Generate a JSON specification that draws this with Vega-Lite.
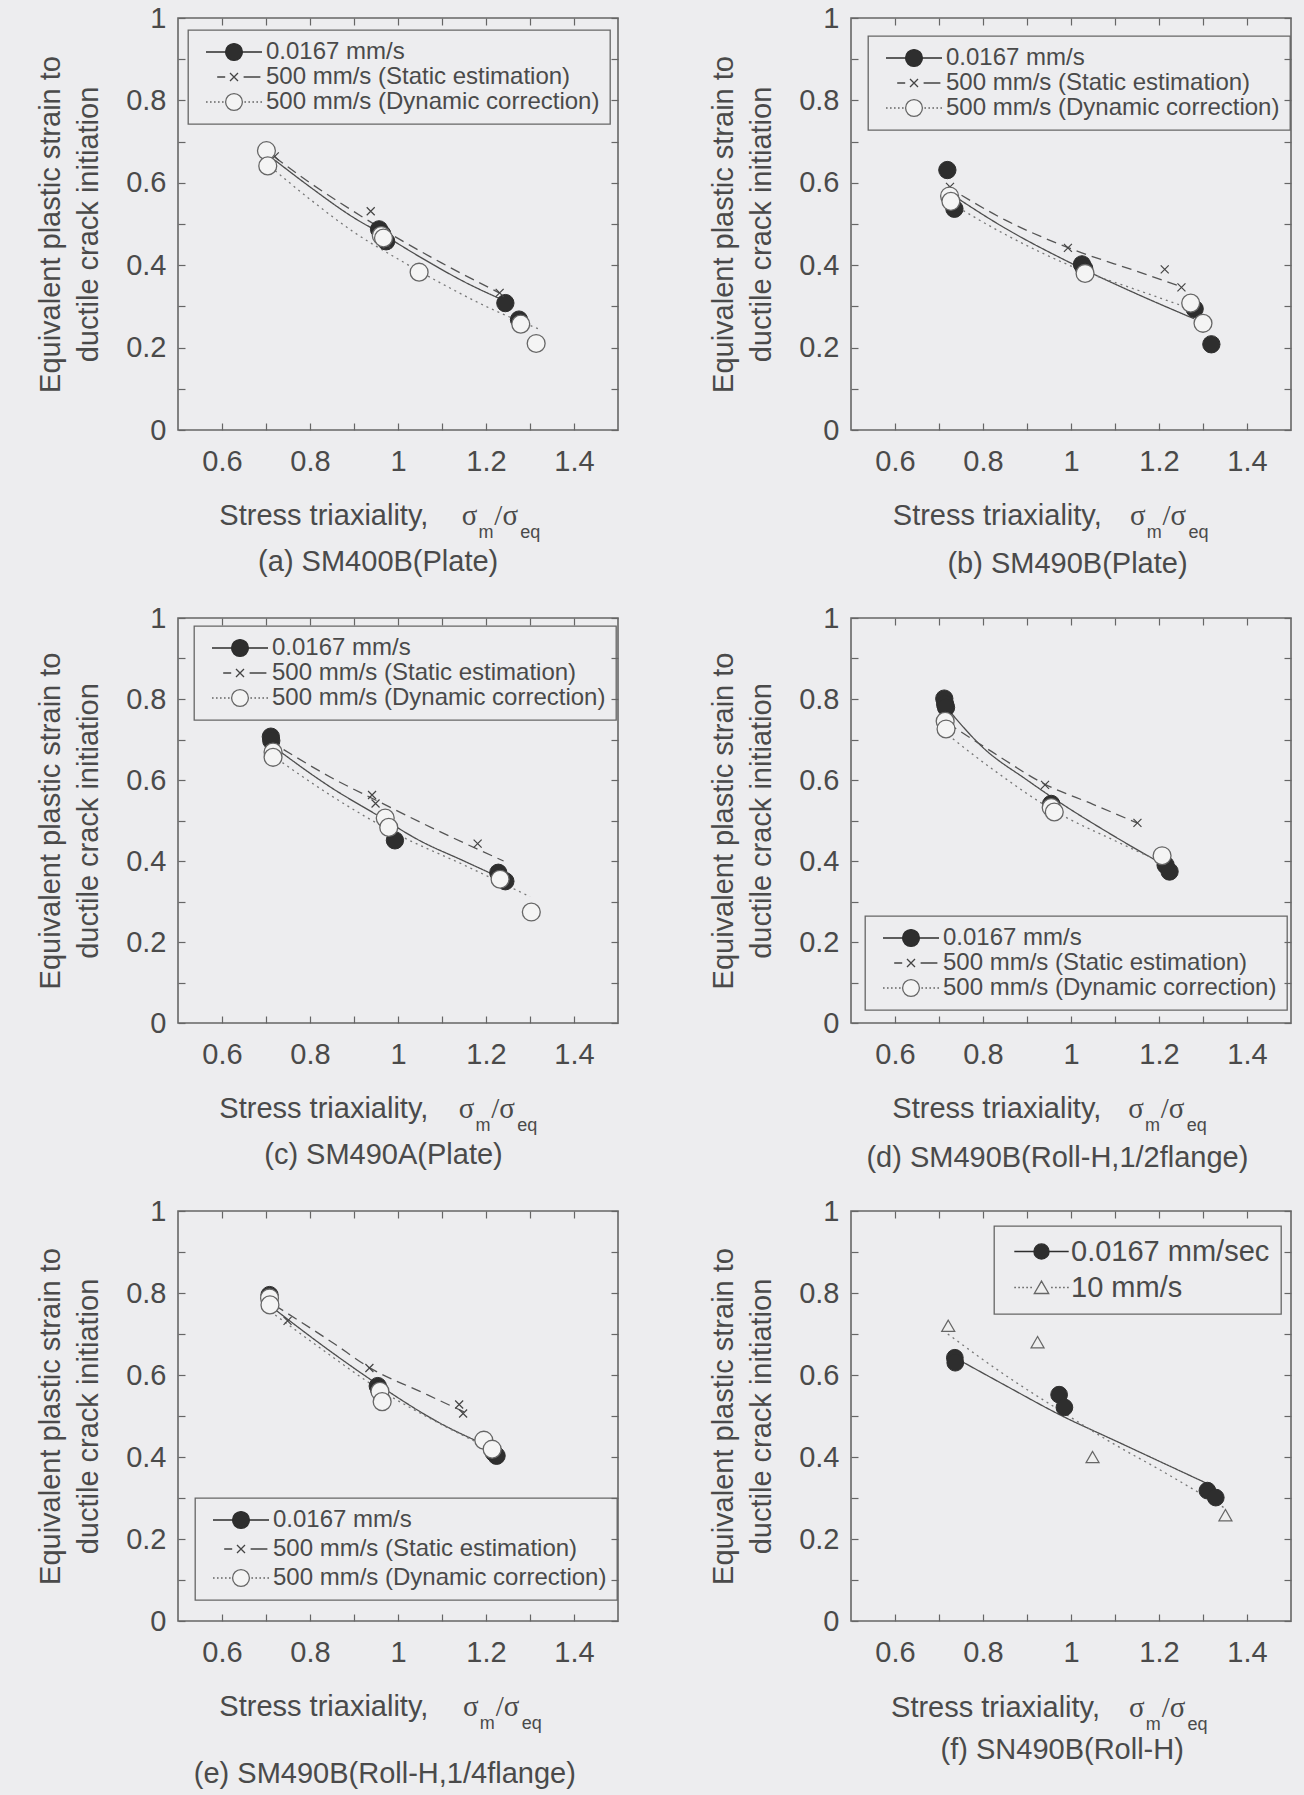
{
"$schema": "https://vega.github.io/schema/vega-lite/v6.json",
"background": "#ededef",
"padding": {"left": 35, "top": 3, "right": 14, "bottom": 6},
"columns": 2,
"bounds": "flush",
"spacing": {"row": 188, "column": 233},
"resolve": {"scale": {"shape": "independent", "fill": "independent", "stroke": "independent", "strokeDash": "independent"}},
"datasets": {
"pts": [
{"panel":"a","series":"0.0167 mm/s","x":0.957,"y":0.487},{"panel":"a","series":"0.0167 mm/s","x":0.964,"y":0.476},{"panel":"a","series":"0.0167 mm/s","x":0.973,"y":0.458},{"panel":"a","series":"0.0167 mm/s","x":1.244,"y":0.308},{"panel":"a","series":"0.0167 mm/s","x":1.275,"y":0.268},
{"panel":"a","series":"500 mm/s (Static estimation)","x":0.72,"y":0.664},{"panel":"a","series":"500 mm/s (Static estimation)","x":0.938,"y":0.531},{"panel":"a","series":"500 mm/s (Static estimation)","x":0.975,"y":0.45},{"panel":"a","series":"500 mm/s (Static estimation)","x":1.231,"y":0.333},
{"panel":"a","series":"500 mm/s (Dynamic correction)","x":0.701,"y":0.678},{"panel":"a","series":"500 mm/s (Dynamic correction)","x":0.704,"y":0.641},{"panel":"a","series":"500 mm/s (Dynamic correction)","x":0.962,"y":0.472},{"panel":"a","series":"500 mm/s (Dynamic correction)","x":0.967,"y":0.466},{"panel":"a","series":"500 mm/s (Dynamic correction)","x":1.048,"y":0.383},{"panel":"a","series":"500 mm/s (Dynamic correction)","x":1.279,"y":0.257},{"panel":"a","series":"500 mm/s (Dynamic correction)","x":1.314,"y":0.21},
{"panel":"b","series":"0.0167 mm/s","x":0.719,"y":0.631},{"panel":"b","series":"0.0167 mm/s","x":0.735,"y":0.537},{"panel":"b","series":"0.0167 mm/s","x":1.025,"y":0.402},{"panel":"b","series":"0.0167 mm/s","x":1.03,"y":0.392},{"panel":"b","series":"0.0167 mm/s","x":1.281,"y":0.294},{"panel":"b","series":"0.0167 mm/s","x":1.319,"y":0.208},
{"panel":"b","series":"500 mm/s (Static estimation)","x":0.725,"y":0.59},{"panel":"b","series":"500 mm/s (Static estimation)","x":0.993,"y":0.442},{"panel":"b","series":"500 mm/s (Static estimation)","x":1.213,"y":0.39},{"panel":"b","series":"500 mm/s (Static estimation)","x":1.251,"y":0.346},
{"panel":"b","series":"500 mm/s (Dynamic correction)","x":0.724,"y":0.568},{"panel":"b","series":"500 mm/s (Dynamic correction)","x":0.727,"y":0.555},{"panel":"b","series":"500 mm/s (Dynamic correction)","x":1.032,"y":0.38},{"panel":"b","series":"500 mm/s (Dynamic correction)","x":1.272,"y":0.308},{"panel":"b","series":"500 mm/s (Dynamic correction)","x":1.3,"y":0.259},
{"panel":"c","series":"0.0167 mm/s","x":0.711,"y":0.707},{"panel":"c","series":"0.0167 mm/s","x":0.712,"y":0.697},{"panel":"c","series":"0.0167 mm/s","x":0.993,"y":0.451},{"panel":"c","series":"0.0167 mm/s","x":1.228,"y":0.371},{"panel":"c","series":"0.0167 mm/s","x":1.244,"y":0.35},
{"panel":"c","series":"500 mm/s (Static estimation)","x":0.72,"y":0.68},{"panel":"c","series":"500 mm/s (Static estimation)","x":0.941,"y":0.563},{"panel":"c","series":"500 mm/s (Static estimation)","x":0.949,"y":0.542},{"panel":"c","series":"500 mm/s (Static estimation)","x":1.181,"y":0.443},{"panel":"c","series":"500 mm/s (Static estimation)","x":1.237,"y":0.364},
{"panel":"c","series":"500 mm/s (Dynamic correction)","x":0.716,"y":0.669},{"panel":"c","series":"500 mm/s (Dynamic correction)","x":0.716,"y":0.656},{"panel":"c","series":"500 mm/s (Dynamic correction)","x":0.971,"y":0.506},{"panel":"c","series":"500 mm/s (Dynamic correction)","x":0.979,"y":0.483},{"panel":"c","series":"500 mm/s (Dynamic correction)","x":1.232,"y":0.355},{"panel":"c","series":"500 mm/s (Dynamic correction)","x":1.303,"y":0.274},
{"panel":"d","series":"0.0167 mm/s","x":0.712,"y":0.801},{"panel":"d","series":"0.0167 mm/s","x":0.714,"y":0.787},{"panel":"d","series":"0.0167 mm/s","x":0.716,"y":0.779},{"panel":"d","series":"0.0167 mm/s","x":0.955,"y":0.541},{"panel":"d","series":"0.0167 mm/s","x":1.215,"y":0.39},{"panel":"d","series":"0.0167 mm/s","x":1.224,"y":0.374},
{"panel":"d","series":"500 mm/s (Static estimation)","x":0.72,"y":0.735},{"panel":"d","series":"500 mm/s (Static estimation)","x":0.941,"y":0.588},{"panel":"d","series":"500 mm/s (Static estimation)","x":1.151,"y":0.494},
{"panel":"d","series":"500 mm/s (Dynamic correction)","x":0.714,"y":0.745},{"panel":"d","series":"500 mm/s (Dynamic correction)","x":0.716,"y":0.726},{"panel":"d","series":"500 mm/s (Dynamic correction)","x":0.955,"y":0.532},{"panel":"d","series":"500 mm/s (Dynamic correction)","x":0.962,"y":0.521},{"panel":"d","series":"500 mm/s (Dynamic correction)","x":1.207,"y":0.413},
{"panel":"e","series":"0.0167 mm/s","x":0.708,"y":0.795},{"panel":"e","series":"0.0167 mm/s","x":0.954,"y":0.573},{"panel":"e","series":"0.0167 mm/s","x":0.957,"y":0.565},{"panel":"e","series":"0.0167 mm/s","x":1.218,"y":0.41},{"panel":"e","series":"0.0167 mm/s","x":1.224,"y":0.403},
{"panel":"e","series":"500 mm/s (Static estimation)","x":0.749,"y":0.732},{"panel":"e","series":"500 mm/s (Static estimation)","x":0.935,"y":0.617},{"panel":"e","series":"500 mm/s (Static estimation)","x":1.139,"y":0.528},{"panel":"e","series":"500 mm/s (Static estimation)","x":1.148,"y":0.506},
{"panel":"e","series":"500 mm/s (Dynamic correction)","x":0.708,"y":0.788},{"panel":"e","series":"500 mm/s (Dynamic correction)","x":0.709,"y":0.771},{"panel":"e","series":"500 mm/s (Dynamic correction)","x":0.959,"y":0.56},{"panel":"e","series":"500 mm/s (Dynamic correction)","x":0.964,"y":0.535},{"panel":"e","series":"500 mm/s (Dynamic correction)","x":1.195,"y":0.441},{"panel":"e","series":"500 mm/s (Dynamic correction)","x":1.214,"y":0.419},
{"panel":"f","series":"0.0167 mm/sec","x":0.736,"y":0.642},{"panel":"f","series":"0.0167 mm/sec","x":0.737,"y":0.63},{"panel":"f","series":"0.0167 mm/sec","x":0.973,"y":0.552},{"panel":"f","series":"0.0167 mm/sec","x":0.985,"y":0.521},{"panel":"f","series":"0.0167 mm/sec","x":1.31,"y":0.318},{"panel":"f","series":"0.0167 mm/sec","x":1.329,"y":0.301},
{"panel":"f","series":"10 mm/s","x":0.721,"y":0.72},{"panel":"f","series":"10 mm/s","x":0.924,"y":0.68},{"panel":"f","series":"10 mm/s","x":1.049,"y":0.4},{"panel":"f","series":"10 mm/s","x":1.351,"y":0.258}
],
"curves": [
{"panel":"a","series":"0.0167 mm/s","x":0.72,"y":0.655},{"panel":"a","series":"0.0167 mm/s","x":0.8,"y":0.59},{"panel":"a","series":"0.0167 mm/s","x":0.9,"y":0.515},{"panel":"a","series":"0.0167 mm/s","x":0.96,"y":0.478},{"panel":"a","series":"0.0167 mm/s","x":1.05,"y":0.42},{"panel":"a","series":"0.0167 mm/s","x":1.15,"y":0.36},{"panel":"a","series":"0.0167 mm/s","x":1.25,"y":0.31},
{"panel":"a","series":"500 mm/s (Static estimation)","x":0.72,"y":0.662},{"panel":"a","series":"500 mm/s (Static estimation)","x":0.8,"y":0.6},{"panel":"a","series":"500 mm/s (Static estimation)","x":0.9,"y":0.53},{"panel":"a","series":"500 mm/s (Static estimation)","x":1.0,"y":0.465},{"panel":"a","series":"500 mm/s (Static estimation)","x":1.1,"y":0.405},{"panel":"a","series":"500 mm/s (Static estimation)","x":1.23,"y":0.333},
{"panel":"a","series":"500 mm/s (Dynamic correction)","x":0.7,"y":0.648},{"panel":"a","series":"500 mm/s (Dynamic correction)","x":0.8,"y":0.56},{"panel":"a","series":"500 mm/s (Dynamic correction)","x":0.9,"y":0.48},{"panel":"a","series":"500 mm/s (Dynamic correction)","x":1.0,"y":0.415},{"panel":"a","series":"500 mm/s (Dynamic correction)","x":1.1,"y":0.355},{"panel":"a","series":"500 mm/s (Dynamic correction)","x":1.2,"y":0.3},{"panel":"a","series":"500 mm/s (Dynamic correction)","x":1.32,"y":0.245},
{"panel":"b","series":"0.0167 mm/s","x":0.72,"y":0.578},{"panel":"b","series":"0.0167 mm/s","x":0.85,"y":0.49},{"panel":"b","series":"0.0167 mm/s","x":1.0,"y":0.405},{"panel":"b","series":"0.0167 mm/s","x":1.15,"y":0.33},{"panel":"b","series":"0.0167 mm/s","x":1.28,"y":0.27},
{"panel":"b","series":"500 mm/s (Static estimation)","x":0.72,"y":0.59},{"panel":"b","series":"500 mm/s (Static estimation)","x":0.85,"y":0.51},{"panel":"b","series":"500 mm/s (Static estimation)","x":1.0,"y":0.44},{"panel":"b","series":"500 mm/s (Static estimation)","x":1.15,"y":0.385},{"panel":"b","series":"500 mm/s (Static estimation)","x":1.25,"y":0.348},
{"panel":"b","series":"500 mm/s (Dynamic correction)","x":0.72,"y":0.555},{"panel":"b","series":"500 mm/s (Dynamic correction)","x":0.85,"y":0.475},{"panel":"b","series":"500 mm/s (Dynamic correction)","x":1.03,"y":0.385},{"panel":"b","series":"500 mm/s (Dynamic correction)","x":1.15,"y":0.34},{"panel":"b","series":"500 mm/s (Dynamic correction)","x":1.27,"y":0.295},
{"panel":"c","series":"0.0167 mm/s","x":0.72,"y":0.68},{"panel":"c","series":"0.0167 mm/s","x":0.85,"y":0.58},{"panel":"c","series":"0.0167 mm/s","x":0.95,"y":0.515},{"panel":"c","series":"0.0167 mm/s","x":1.05,"y":0.45},{"panel":"c","series":"0.0167 mm/s","x":1.15,"y":0.4},{"panel":"c","series":"0.0167 mm/s","x":1.23,"y":0.36},
{"panel":"c","series":"500 mm/s (Static estimation)","x":0.74,"y":0.675},{"panel":"c","series":"500 mm/s (Static estimation)","x":0.85,"y":0.605},{"panel":"c","series":"500 mm/s (Static estimation)","x":0.95,"y":0.55},{"panel":"c","series":"500 mm/s (Static estimation)","x":1.1,"y":0.47},{"panel":"c","series":"500 mm/s (Static estimation)","x":1.24,"y":0.4},
{"panel":"c","series":"500 mm/s (Dynamic correction)","x":0.715,"y":0.66},{"panel":"c","series":"500 mm/s (Dynamic correction)","x":0.85,"y":0.56},{"panel":"c","series":"500 mm/s (Dynamic correction)","x":1.0,"y":0.465},{"panel":"c","series":"500 mm/s (Dynamic correction)","x":1.15,"y":0.39},{"panel":"c","series":"500 mm/s (Dynamic correction)","x":1.3,"y":0.312},
{"panel":"d","series":"0.0167 mm/s","x":0.72,"y":0.775},{"panel":"d","series":"0.0167 mm/s","x":0.8,"y":0.68},{"panel":"d","series":"0.0167 mm/s","x":0.9,"y":0.6},{"panel":"d","series":"0.0167 mm/s","x":0.96,"y":0.555},{"panel":"d","series":"0.0167 mm/s","x":1.1,"y":0.46},{"panel":"d","series":"0.0167 mm/s","x":1.22,"y":0.385},
{"panel":"d","series":"500 mm/s (Static estimation)","x":0.72,"y":0.74},{"panel":"d","series":"500 mm/s (Static estimation)","x":0.82,"y":0.67},{"panel":"d","series":"500 mm/s (Static estimation)","x":0.94,"y":0.59},{"panel":"d","series":"500 mm/s (Static estimation)","x":1.05,"y":0.54},{"panel":"d","series":"500 mm/s (Static estimation)","x":1.15,"y":0.494},
{"panel":"d","series":"500 mm/s (Dynamic correction)","x":0.71,"y":0.72},{"panel":"d","series":"500 mm/s (Dynamic correction)","x":0.83,"y":0.62},{"panel":"d","series":"500 mm/s (Dynamic correction)","x":0.96,"y":0.525},{"panel":"d","series":"500 mm/s (Dynamic correction)","x":1.1,"y":0.45},{"panel":"d","series":"500 mm/s (Dynamic correction)","x":1.21,"y":0.395},
{"panel":"e","series":"0.0167 mm/s","x":0.72,"y":0.76},{"panel":"e","series":"0.0167 mm/s","x":0.85,"y":0.655},{"panel":"e","series":"0.0167 mm/s","x":0.95,"y":0.58},{"panel":"e","series":"0.0167 mm/s","x":1.1,"y":0.48},{"panel":"e","series":"0.0167 mm/s","x":1.22,"y":0.42},
{"panel":"e","series":"500 mm/s (Static estimation)","x":0.72,"y":0.77},{"panel":"e","series":"500 mm/s (Static estimation)","x":0.85,"y":0.68},{"panel":"e","series":"500 mm/s (Static estimation)","x":0.94,"y":0.615},{"panel":"e","series":"500 mm/s (Static estimation)","x":1.05,"y":0.56},{"panel":"e","series":"500 mm/s (Static estimation)","x":1.15,"y":0.51},
{"panel":"e","series":"500 mm/s (Dynamic correction)","x":0.71,"y":0.755},{"panel":"e","series":"500 mm/s (Dynamic correction)","x":0.85,"y":0.645},{"panel":"e","series":"500 mm/s (Dynamic correction)","x":0.95,"y":0.57},{"panel":"e","series":"500 mm/s (Dynamic correction)","x":1.08,"y":0.49},{"panel":"e","series":"500 mm/s (Dynamic correction)","x":1.2,"y":0.425},
{"panel":"f","series":"0.0167 mm/sec","x":0.74,"y":0.64},{"panel":"f","series":"0.0167 mm/sec","x":0.85,"y":0.575},{"panel":"f","series":"0.0167 mm/sec","x":0.98,"y":0.5},{"panel":"f","series":"0.0167 mm/sec","x":1.1,"y":0.44},{"panel":"f","series":"0.0167 mm/sec","x":1.2,"y":0.39},{"panel":"f","series":"0.0167 mm/sec","x":1.31,"y":0.335},
{"panel":"f","series":"10 mm/s","x":0.72,"y":0.7},{"panel":"f","series":"10 mm/s","x":0.85,"y":0.6},{"panel":"f","series":"10 mm/s","x":0.98,"y":0.51},{"panel":"f","series":"10 mm/s","x":1.1,"y":0.43},{"panel":"f","series":"10 mm/s","x":1.2,"y":0.37},{"panel":"f","series":"10 mm/s","x":1.35,"y":0.275}
]
},
"concat": [
{
"width": 440, "height": 412,
"resolve": {"scale": {"shape": "independent", "fill": "independent", "stroke": "independent", "strokeDash": "independent"}, "axis": {"x": "independent", "y": "independent"}},
"layer": [
{"data": {"name": "curves"}, "transform": [{"filter": "datum.panel == 'a'"}],
 "mark": {"type": "line", "interpolate": "monotone", "strokeWidth": 1.3},
 "encoding": {
  "x": {"field": "x", "type": "quantitative", "scale": {"domain": [0.5, 1.5], "nice": false, "zero": false}, "axis": {"orient": "top", "values": [0.6,0.7,0.8,0.9,1,1.1,1.2,1.3,1.4], "labels": false, "title": null}},
  "y": {"field": "y", "type": "quantitative", "scale": {"domain": [0, 1], "nice": false}, "axis": {"orient": "right", "values": [0,0.1,0.2,0.3,0.4,0.5,0.6,0.7,0.8,0.9,1], "labels": false, "title": null}},
  "strokeDash": {"field": "series", "type": "nominal", "scale": {"domain": ["0.0167 mm/s","500 mm/s (Static estimation)","500 mm/s (Dynamic correction)"], "range": [[1,0],[10,6],[2,4]]}, "legend": null},
  "stroke": {"field": "series", "type": "nominal", "scale": {"domain": ["0.0167 mm/s","500 mm/s (Static estimation)","500 mm/s (Dynamic correction)"], "range": ["#4d4d4d","#555555","#777777"]}, "legend": null}
 }},
{"data": {"name": "pts"}, "transform": [{"filter": "datum.panel == 'a' && datum.series == '0.0167 mm/s'"}],
 "mark": {"type": "point", "shape": "circle", "filled": true, "size": 300, "fill": "#2e2e2e", "stroke": "#2e2e2e", "strokeWidth": 1, "opacity": 1},
 "encoding": {
  "x": {"field": "x", "type": "quantitative", "scale": {"domain": [0.5, 1.5], "nice": false, "zero": false}, "axis": {"orient": "bottom", "values": [0.6,0.7,0.8,0.9,1,1.1,1.2,1.3,1.4], "labelExpr": "round(datum.value*10)%2==0 ? format(datum.value,'~g') : ''", "title": null, "labelPadding": 24}},
  "y": {"field": "y", "type": "quantitative", "scale": {"domain": [0, 1], "nice": false}, "axis": {"orient": "left", "values": [0,0.1,0.2,0.3,0.4,0.5,0.6,0.7,0.8,0.9,1], "labelExpr": "round(datum.value*10)%2==0 ? format(datum.value,'~g') : ''", "title": ["Equivalent plastic strain to", "ductile crack initiation"], "labelPadding": 19, "titlePadding": 22, "titleLineHeight": 38}}
 }},
{"data": {"name": "pts"}, "transform": [{"filter": "datum.panel == 'a' && datum.series == '500 mm/s (Static estimation)'"}],
 "mark": {"type": "point", "shape": "M-1,-1L1,1M-1,1L1,-1", "filled": false, "size": 64, "stroke": "#444444", "strokeWidth": 1.2, "opacity": 1},
 "encoding": {"x": {"field": "x", "type": "quantitative", "scale": {"domain": [0.5, 1.5], "nice": false, "zero": false}, "axis": null}, "y": {"field": "y", "type": "quantitative", "scale": {"domain": [0, 1], "nice": false}, "axis": null}}},
{"data": {"name": "pts"}, "transform": [{"filter": "datum.panel == 'a' && datum.series == '500 mm/s (Dynamic correction)'"}],
 "mark": {"type": "point", "shape": "circle", "filled": true, "size": 320, "fill": "#f4f4f4", "stroke": "#666666", "strokeWidth": 1.3, "opacity": 1},
 "encoding": {"x": {"field": "x", "type": "quantitative", "scale": {"domain": [0.5, 1.5], "nice": false, "zero": false}, "axis": null}, "y": {"field": "y", "type": "quantitative", "scale": {"domain": [0, 1], "nice": false}, "axis": null}}},
{"data": {"name": "pts"}, "transform": [{"filter": "false"}],
 "mark": {"type": "point", "filled": true, "opacity": 1},
 "encoding": {
  "x": {"field": "x", "type": "quantitative", "scale": {"domain": [0.5, 1.5], "nice": false, "zero": false}, "axis": null},
  "y": {"field": "y", "type": "quantitative", "scale": {"domain": [0, 1], "nice": false}, "axis": null},
  "shape": {"field": "series", "type": "nominal", "scale": {"domain": ["0.0167 mm/s","500 mm/s (Static estimation)","500 mm/s (Dynamic correction)"], "range": ["M-3.5,0H-1.05M1.05,0H3.5M-1.05,0A1.05,1.05,0,1,1,1.05,0A1.05,1.05,0,1,1,-1.05,0Z", "M-2.1,0H-1.1M1.2,0H3.3M-0.5,-0.5L0.5,0.5M-0.5,0.5L0.5,-0.5", "M-3.5,0H-3.3M-3,0H-2.8M-2.5,0H-2.3M-2,0H-1.8M-1.5,0H-1.3M1.3,0H1.5M1.8,0H2M2.3,0H2.5M2.8,0H3M3.3,0H3.5M-1.05,0A1.05,1.05,0,1,1,1.05,0A1.05,1.05,0,1,1,-1.05,0Z"]},
   "legend": {"title": null, "orient": "none", "legendX": 10, "legendY": 12, "padding": 10, "strokeColor": "#666666", "symbolSize": 256, "symbolStrokeWidth": 1.3, "symbolOffset": 24, "labelOffset": 20, "labelFont": "Liberation Sans", "labelFontSize": 24, "labelColor": "#4a4a4a", "labelLimit": 600, "rowPadding": 1}},
  "fill": {"field": "series", "type": "nominal", "scale": {"domain": ["0.0167 mm/s","500 mm/s (Static estimation)","500 mm/s (Dynamic correction)"], "range": ["#2e2e2e","transparent","#f4f4f4"]}},
  "stroke": {"field": "series", "type": "nominal", "scale": {"domain": ["0.0167 mm/s","500 mm/s (Static estimation)","500 mm/s (Dynamic correction)"], "range": ["#2e2e2e","#444444","#666666"]}}
 }},
{"data": {"values": [{}]}, "mark": {"type": "text", "text": "Stress triaxiality,", "align": "left", "baseline": "middle", "font": "Liberation Sans", "fontSize": 29, "color": "#4a4a4a"},
 "encoding": {"x": {"datum": 0.594, "type": "quantitative", "scale": {"domain": [0.5, 1.5], "nice": false, "zero": false}, "axis": null}, "y": {"datum": -0.209, "type": "quantitative", "scale": {"domain": [0, 1], "nice": false}, "axis": null}}},
{"data": {"values": [{}]}, "mark": {"type": "text", "text": "σ", "align": "left", "baseline": "middle", "font": "Liberation Serif", "fontSize": 29, "color": "#4a4a4a"},
 "encoding": {"x": {"datum": 1.145, "type": "quantitative", "scale": {"domain": [0.5, 1.5], "nice": false, "zero": false}, "axis": null}, "y": {"datum": -0.209, "type": "quantitative", "scale": {"domain": [0, 1], "nice": false}, "axis": null}}},
{"data": {"values": [{}]}, "mark": {"type": "text", "text": "m", "align": "left", "baseline": "middle", "font": "Liberation Sans", "fontSize": 18, "color": "#4a4a4a"},
 "encoding": {"x": {"datum": 1.183, "type": "quantitative", "scale": {"domain": [0.5, 1.5], "nice": false, "zero": false}, "axis": null}, "y": {"datum": -0.25, "type": "quantitative", "scale": {"domain": [0, 1], "nice": false}, "axis": null}}},
{"data": {"values": [{}]}, "mark": {"type": "text", "text": "/σ", "align": "left", "baseline": "middle", "font": "Liberation Serif", "fontSize": 29, "color": "#4a4a4a"},
 "encoding": {"x": {"datum": 1.219, "type": "quantitative", "scale": {"domain": [0.5, 1.5], "nice": false, "zero": false}, "axis": null}, "y": {"datum": -0.209, "type": "quantitative", "scale": {"domain": [0, 1], "nice": false}, "axis": null}}},
{"data": {"values": [{}]}, "mark": {"type": "text", "text": "eq", "align": "left", "baseline": "middle", "font": "Liberation Sans", "fontSize": 18, "color": "#4a4a4a"},
 "encoding": {"x": {"datum": 1.278, "type": "quantitative", "scale": {"domain": [0.5, 1.5], "nice": false, "zero": false}, "axis": null}, "y": {"datum": -0.25, "type": "quantitative", "scale": {"domain": [0, 1], "nice": false}, "axis": null}}},
{"data": {"values": [{}]}, "mark": {"type": "text", "text": "(a) SM400B(Plate)", "align": "center", "baseline": "middle", "font": "Liberation Sans", "fontSize": 29, "color": "#4a4a4a"},
 "encoding": {"x": {"datum": 0.955, "type": "quantitative", "scale": {"domain": [0.5, 1.5], "nice": false, "zero": false}, "axis": null}, "y": {"datum": -0.32, "type": "quantitative", "scale": {"domain": [0, 1], "nice": false}, "axis": null}}}
]
},
{
"width": 440, "height": 412,
"resolve": {"scale": {"shape": "independent", "fill": "independent", "stroke": "independent", "strokeDash": "independent"}, "axis": {"x": "independent", "y": "independent"}},
"layer": [
{"data": {"name": "curves"}, "transform": [{"filter": "datum.panel == 'b'"}],
 "mark": {"type": "line", "interpolate": "monotone", "strokeWidth": 1.3},
 "encoding": {
  "x": {"field": "x", "type": "quantitative", "scale": {"domain": [0.5, 1.5], "nice": false, "zero": false}, "axis": {"orient": "top", "values": [0.6,0.7,0.8,0.9,1,1.1,1.2,1.3,1.4], "labels": false, "title": null}},
  "y": {"field": "y", "type": "quantitative", "scale": {"domain": [0, 1], "nice": false}, "axis": {"orient": "right", "values": [0,0.1,0.2,0.3,0.4,0.5,0.6,0.7,0.8,0.9,1], "labels": false, "title": null}},
  "strokeDash": {"field": "series", "type": "nominal", "scale": {"domain": ["0.0167 mm/s","500 mm/s (Static estimation)","500 mm/s (Dynamic correction)"], "range": [[1,0],[10,6],[2,4]]}, "legend": null},
  "stroke": {"field": "series", "type": "nominal", "scale": {"domain": ["0.0167 mm/s","500 mm/s (Static estimation)","500 mm/s (Dynamic correction)"], "range": ["#4d4d4d","#555555","#777777"]}, "legend": null}
 }},
{"data": {"name": "pts"}, "transform": [{"filter": "datum.panel == 'b' && datum.series == '0.0167 mm/s'"}],
 "mark": {"type": "point", "shape": "circle", "filled": true, "size": 300, "fill": "#2e2e2e", "stroke": "#2e2e2e", "strokeWidth": 1, "opacity": 1},
 "encoding": {
  "x": {"field": "x", "type": "quantitative", "scale": {"domain": [0.5, 1.5], "nice": false, "zero": false}, "axis": {"orient": "bottom", "values": [0.6,0.7,0.8,0.9,1,1.1,1.2,1.3,1.4], "labelExpr": "round(datum.value*10)%2==0 ? format(datum.value,'~g') : ''", "title": null, "labelPadding": 24}},
  "y": {"field": "y", "type": "quantitative", "scale": {"domain": [0, 1], "nice": false}, "axis": {"orient": "left", "values": [0,0.1,0.2,0.3,0.4,0.5,0.6,0.7,0.8,0.9,1], "labelExpr": "round(datum.value*10)%2==0 ? format(datum.value,'~g') : ''", "title": ["Equivalent plastic strain to", "ductile crack initiation"], "labelPadding": 19, "titlePadding": 22, "titleLineHeight": 38}}
 }},
{"data": {"name": "pts"}, "transform": [{"filter": "datum.panel == 'b' && datum.series == '500 mm/s (Static estimation)'"}],
 "mark": {"type": "point", "shape": "M-1,-1L1,1M-1,1L1,-1", "filled": false, "size": 64, "stroke": "#444444", "strokeWidth": 1.2, "opacity": 1},
 "encoding": {"x": {"field": "x", "type": "quantitative", "scale": {"domain": [0.5, 1.5], "nice": false, "zero": false}, "axis": null}, "y": {"field": "y", "type": "quantitative", "scale": {"domain": [0, 1], "nice": false}, "axis": null}}},
{"data": {"name": "pts"}, "transform": [{"filter": "datum.panel == 'b' && datum.series == '500 mm/s (Dynamic correction)'"}],
 "mark": {"type": "point", "shape": "circle", "filled": true, "size": 320, "fill": "#f4f4f4", "stroke": "#666666", "strokeWidth": 1.3, "opacity": 1},
 "encoding": {"x": {"field": "x", "type": "quantitative", "scale": {"domain": [0.5, 1.5], "nice": false, "zero": false}, "axis": null}, "y": {"field": "y", "type": "quantitative", "scale": {"domain": [0, 1], "nice": false}, "axis": null}}},
{"data": {"name": "pts"}, "transform": [{"filter": "false"}],
 "mark": {"type": "point", "filled": true, "opacity": 1},
 "encoding": {
  "x": {"field": "x", "type": "quantitative", "scale": {"domain": [0.5, 1.5], "nice": false, "zero": false}, "axis": null},
  "y": {"field": "y", "type": "quantitative", "scale": {"domain": [0, 1], "nice": false}, "axis": null},
  "shape": {"field": "series", "type": "nominal", "scale": {"domain": ["0.0167 mm/s","500 mm/s (Static estimation)","500 mm/s (Dynamic correction)"], "range": ["M-3.5,0H-1.05M1.05,0H3.5M-1.05,0A1.05,1.05,0,1,1,1.05,0A1.05,1.05,0,1,1,-1.05,0Z", "M-2.1,0H-1.1M1.2,0H3.3M-0.5,-0.5L0.5,0.5M-0.5,0.5L0.5,-0.5", "M-3.5,0H-3.3M-3,0H-2.8M-2.5,0H-2.3M-2,0H-1.8M-1.5,0H-1.3M1.3,0H1.5M1.8,0H2M2.3,0H2.5M2.8,0H3M3.3,0H3.5M-1.05,0A1.05,1.05,0,1,1,1.05,0A1.05,1.05,0,1,1,-1.05,0Z"]},
   "legend": {"title": null, "orient": "none", "legendX": 17, "legendY": 18, "padding": 10, "strokeColor": "#666666", "symbolSize": 256, "symbolStrokeWidth": 1.3, "symbolOffset": 24, "labelOffset": 20, "labelFont": "Liberation Sans", "labelFontSize": 24, "labelColor": "#4a4a4a", "labelLimit": 600, "rowPadding": 1}},
  "fill": {"field": "series", "type": "nominal", "scale": {"domain": ["0.0167 mm/s","500 mm/s (Static estimation)","500 mm/s (Dynamic correction)"], "range": ["#2e2e2e","transparent","#f4f4f4"]}},
  "stroke": {"field": "series", "type": "nominal", "scale": {"domain": ["0.0167 mm/s","500 mm/s (Static estimation)","500 mm/s (Dynamic correction)"], "range": ["#2e2e2e","#444444","#666666"]}}
 }},
{"data": {"values": [{}]}, "mark": {"type": "text", "text": "Stress triaxiality,", "align": "left", "baseline": "middle", "font": "Liberation Sans", "fontSize": 29, "color": "#4a4a4a"},
 "encoding": {"x": {"datum": 0.595, "type": "quantitative", "scale": {"domain": [0.5, 1.5], "nice": false, "zero": false}, "axis": null}, "y": {"datum": -0.209, "type": "quantitative", "scale": {"domain": [0, 1], "nice": false}, "axis": null}}},
{"data": {"values": [{}]}, "mark": {"type": "text", "text": "σ", "align": "left", "baseline": "middle", "font": "Liberation Serif", "fontSize": 29, "color": "#4a4a4a"},
 "encoding": {"x": {"datum": 1.134, "type": "quantitative", "scale": {"domain": [0.5, 1.5], "nice": false, "zero": false}, "axis": null}, "y": {"datum": -0.209, "type": "quantitative", "scale": {"domain": [0, 1], "nice": false}, "axis": null}}},
{"data": {"values": [{}]}, "mark": {"type": "text", "text": "m", "align": "left", "baseline": "middle", "font": "Liberation Sans", "fontSize": 18, "color": "#4a4a4a"},
 "encoding": {"x": {"datum": 1.172, "type": "quantitative", "scale": {"domain": [0.5, 1.5], "nice": false, "zero": false}, "axis": null}, "y": {"datum": -0.25, "type": "quantitative", "scale": {"domain": [0, 1], "nice": false}, "axis": null}}},
{"data": {"values": [{}]}, "mark": {"type": "text", "text": "/σ", "align": "left", "baseline": "middle", "font": "Liberation Serif", "fontSize": 29, "color": "#4a4a4a"},
 "encoding": {"x": {"datum": 1.208, "type": "quantitative", "scale": {"domain": [0.5, 1.5], "nice": false, "zero": false}, "axis": null}, "y": {"datum": -0.209, "type": "quantitative", "scale": {"domain": [0, 1], "nice": false}, "axis": null}}},
{"data": {"values": [{}]}, "mark": {"type": "text", "text": "eq", "align": "left", "baseline": "middle", "font": "Liberation Sans", "fontSize": 18, "color": "#4a4a4a"},
 "encoding": {"x": {"datum": 1.267, "type": "quantitative", "scale": {"domain": [0.5, 1.5], "nice": false, "zero": false}, "axis": null}, "y": {"datum": -0.25, "type": "quantitative", "scale": {"domain": [0, 1], "nice": false}, "axis": null}}},
{"data": {"values": [{}]}, "mark": {"type": "text", "text": "(b) SM490B(Plate)", "align": "center", "baseline": "middle", "font": "Liberation Sans", "fontSize": 29, "color": "#4a4a4a"},
 "encoding": {"x": {"datum": 0.992, "type": "quantitative", "scale": {"domain": [0.5, 1.5], "nice": false, "zero": false}, "axis": null}, "y": {"datum": -0.325, "type": "quantitative", "scale": {"domain": [0, 1], "nice": false}, "axis": null}}}
]
},
{
"width": 440, "height": 405,
"resolve": {"scale": {"shape": "independent", "fill": "independent", "stroke": "independent", "strokeDash": "independent"}, "axis": {"x": "independent", "y": "independent"}},
"layer": [
{"data": {"name": "curves"}, "transform": [{"filter": "datum.panel == 'c'"}],
 "mark": {"type": "line", "interpolate": "monotone", "strokeWidth": 1.3},
 "encoding": {
  "x": {"field": "x", "type": "quantitative", "scale": {"domain": [0.5, 1.5], "nice": false, "zero": false}, "axis": {"orient": "top", "values": [0.6,0.7,0.8,0.9,1,1.1,1.2,1.3,1.4], "labels": false, "title": null}},
  "y": {"field": "y", "type": "quantitative", "scale": {"domain": [0, 1], "nice": false}, "axis": {"orient": "right", "values": [0,0.1,0.2,0.3,0.4,0.5,0.6,0.7,0.8,0.9,1], "labels": false, "title": null}},
  "strokeDash": {"field": "series", "type": "nominal", "scale": {"domain": ["0.0167 mm/s","500 mm/s (Static estimation)","500 mm/s (Dynamic correction)"], "range": [[1,0],[10,6],[2,4]]}, "legend": null},
  "stroke": {"field": "series", "type": "nominal", "scale": {"domain": ["0.0167 mm/s","500 mm/s (Static estimation)","500 mm/s (Dynamic correction)"], "range": ["#4d4d4d","#555555","#777777"]}, "legend": null}
 }},
{"data": {"name": "pts"}, "transform": [{"filter": "datum.panel == 'c' && datum.series == '0.0167 mm/s'"}],
 "mark": {"type": "point", "shape": "circle", "filled": true, "size": 300, "fill": "#2e2e2e", "stroke": "#2e2e2e", "strokeWidth": 1, "opacity": 1},
 "encoding": {
  "x": {"field": "x", "type": "quantitative", "scale": {"domain": [0.5, 1.5], "nice": false, "zero": false}, "axis": {"orient": "bottom", "values": [0.6,0.7,0.8,0.9,1,1.1,1.2,1.3,1.4], "labelExpr": "round(datum.value*10)%2==0 ? format(datum.value,'~g') : ''", "title": null, "labelPadding": 24}},
  "y": {"field": "y", "type": "quantitative", "scale": {"domain": [0, 1], "nice": false}, "axis": {"orient": "left", "values": [0,0.1,0.2,0.3,0.4,0.5,0.6,0.7,0.8,0.9,1], "labelExpr": "round(datum.value*10)%2==0 ? format(datum.value,'~g') : ''", "title": ["Equivalent plastic strain to", "ductile crack initiation"], "labelPadding": 19, "titlePadding": 22, "titleLineHeight": 38}}
 }},
{"data": {"name": "pts"}, "transform": [{"filter": "datum.panel == 'c' && datum.series == '500 mm/s (Static estimation)'"}],
 "mark": {"type": "point", "shape": "M-1,-1L1,1M-1,1L1,-1", "filled": false, "size": 64, "stroke": "#444444", "strokeWidth": 1.2, "opacity": 1},
 "encoding": {"x": {"field": "x", "type": "quantitative", "scale": {"domain": [0.5, 1.5], "nice": false, "zero": false}, "axis": null}, "y": {"field": "y", "type": "quantitative", "scale": {"domain": [0, 1], "nice": false}, "axis": null}}},
{"data": {"name": "pts"}, "transform": [{"filter": "datum.panel == 'c' && datum.series == '500 mm/s (Dynamic correction)'"}],
 "mark": {"type": "point", "shape": "circle", "filled": true, "size": 320, "fill": "#f4f4f4", "stroke": "#666666", "strokeWidth": 1.3, "opacity": 1},
 "encoding": {"x": {"field": "x", "type": "quantitative", "scale": {"domain": [0.5, 1.5], "nice": false, "zero": false}, "axis": null}, "y": {"field": "y", "type": "quantitative", "scale": {"domain": [0, 1], "nice": false}, "axis": null}}},
{"data": {"name": "pts"}, "transform": [{"filter": "false"}],
 "mark": {"type": "point", "filled": true, "opacity": 1},
 "encoding": {
  "x": {"field": "x", "type": "quantitative", "scale": {"domain": [0.5, 1.5], "nice": false, "zero": false}, "axis": null},
  "y": {"field": "y", "type": "quantitative", "scale": {"domain": [0, 1], "nice": false}, "axis": null},
  "shape": {"field": "series", "type": "nominal", "scale": {"domain": ["0.0167 mm/s","500 mm/s (Static estimation)","500 mm/s (Dynamic correction)"], "range": ["M-3.5,0H-1.05M1.05,0H3.5M-1.05,0A1.05,1.05,0,1,1,1.05,0A1.05,1.05,0,1,1,-1.05,0Z", "M-2.1,0H-1.1M1.2,0H3.3M-0.5,-0.5L0.5,0.5M-0.5,0.5L0.5,-0.5", "M-3.5,0H-3.3M-3,0H-2.8M-2.5,0H-2.3M-2,0H-1.8M-1.5,0H-1.3M1.3,0H1.5M1.8,0H2M2.3,0H2.5M2.8,0H3M3.3,0H3.5M-1.05,0A1.05,1.05,0,1,1,1.05,0A1.05,1.05,0,1,1,-1.05,0Z"]},
   "legend": {"title": null, "orient": "none", "legendX": 16, "legendY": 8, "padding": 10, "strokeColor": "#666666", "symbolSize": 256, "symbolStrokeWidth": 1.3, "symbolOffset": 24, "labelOffset": 20, "labelFont": "Liberation Sans", "labelFontSize": 24, "labelColor": "#4a4a4a", "labelLimit": 600, "rowPadding": 1}},
  "fill": {"field": "series", "type": "nominal", "scale": {"domain": ["0.0167 mm/s","500 mm/s (Static estimation)","500 mm/s (Dynamic correction)"], "range": ["#2e2e2e","transparent","#f4f4f4"]}},
  "stroke": {"field": "series", "type": "nominal", "scale": {"domain": ["0.0167 mm/s","500 mm/s (Static estimation)","500 mm/s (Dynamic correction)"], "range": ["#2e2e2e","#444444","#666666"]}}
 }},
{"data": {"values": [{}]}, "mark": {"type": "text", "text": "Stress triaxiality,", "align": "left", "baseline": "middle", "font": "Liberation Sans", "fontSize": 29, "color": "#4a4a4a"},
 "encoding": {"x": {"datum": 0.594, "type": "quantitative", "scale": {"domain": [0.5, 1.5], "nice": false, "zero": false}, "axis": null}, "y": {"datum": -0.212, "type": "quantitative", "scale": {"domain": [0, 1], "nice": false}, "axis": null}}},
{"data": {"values": [{}]}, "mark": {"type": "text", "text": "σ", "align": "left", "baseline": "middle", "font": "Liberation Serif", "fontSize": 29, "color": "#4a4a4a"},
 "encoding": {"x": {"datum": 1.138, "type": "quantitative", "scale": {"domain": [0.5, 1.5], "nice": false, "zero": false}, "axis": null}, "y": {"datum": -0.212, "type": "quantitative", "scale": {"domain": [0, 1], "nice": false}, "axis": null}}},
{"data": {"values": [{}]}, "mark": {"type": "text", "text": "m", "align": "left", "baseline": "middle", "font": "Liberation Sans", "fontSize": 18, "color": "#4a4a4a"},
 "encoding": {"x": {"datum": 1.176, "type": "quantitative", "scale": {"domain": [0.5, 1.5], "nice": false, "zero": false}, "axis": null}, "y": {"datum": -0.254, "type": "quantitative", "scale": {"domain": [0, 1], "nice": false}, "axis": null}}},
{"data": {"values": [{}]}, "mark": {"type": "text", "text": "/σ", "align": "left", "baseline": "middle", "font": "Liberation Serif", "fontSize": 29, "color": "#4a4a4a"},
 "encoding": {"x": {"datum": 1.212, "type": "quantitative", "scale": {"domain": [0.5, 1.5], "nice": false, "zero": false}, "axis": null}, "y": {"datum": -0.212, "type": "quantitative", "scale": {"domain": [0, 1], "nice": false}, "axis": null}}},
{"data": {"values": [{}]}, "mark": {"type": "text", "text": "eq", "align": "left", "baseline": "middle", "font": "Liberation Sans", "fontSize": 18, "color": "#4a4a4a"},
 "encoding": {"x": {"datum": 1.271, "type": "quantitative", "scale": {"domain": [0.5, 1.5], "nice": false, "zero": false}, "axis": null}, "y": {"datum": -0.254, "type": "quantitative", "scale": {"domain": [0, 1], "nice": false}, "axis": null}}},
{"data": {"values": [{}]}, "mark": {"type": "text", "text": "(c) SM490A(Plate)", "align": "center", "baseline": "middle", "font": "Liberation Sans", "fontSize": 29, "color": "#4a4a4a"},
 "encoding": {"x": {"datum": 0.967, "type": "quantitative", "scale": {"domain": [0.5, 1.5], "nice": false, "zero": false}, "axis": null}, "y": {"datum": -0.326, "type": "quantitative", "scale": {"domain": [0, 1], "nice": false}, "axis": null}}}
]
},
{
"width": 440, "height": 405,
"resolve": {"scale": {"shape": "independent", "fill": "independent", "stroke": "independent", "strokeDash": "independent"}, "axis": {"x": "independent", "y": "independent"}},
"layer": [
{"data": {"name": "curves"}, "transform": [{"filter": "datum.panel == 'd'"}],
 "mark": {"type": "line", "interpolate": "monotone", "strokeWidth": 1.3},
 "encoding": {
  "x": {"field": "x", "type": "quantitative", "scale": {"domain": [0.5, 1.5], "nice": false, "zero": false}, "axis": {"orient": "top", "values": [0.6,0.7,0.8,0.9,1,1.1,1.2,1.3,1.4], "labels": false, "title": null}},
  "y": {"field": "y", "type": "quantitative", "scale": {"domain": [0, 1], "nice": false}, "axis": {"orient": "right", "values": [0,0.1,0.2,0.3,0.4,0.5,0.6,0.7,0.8,0.9,1], "labels": false, "title": null}},
  "strokeDash": {"field": "series", "type": "nominal", "scale": {"domain": ["0.0167 mm/s","500 mm/s (Static estimation)","500 mm/s (Dynamic correction)"], "range": [[1,0],[10,6],[2,4]]}, "legend": null},
  "stroke": {"field": "series", "type": "nominal", "scale": {"domain": ["0.0167 mm/s","500 mm/s (Static estimation)","500 mm/s (Dynamic correction)"], "range": ["#4d4d4d","#555555","#777777"]}, "legend": null}
 }},
{"data": {"name": "pts"}, "transform": [{"filter": "datum.panel == 'd' && datum.series == '0.0167 mm/s'"}],
 "mark": {"type": "point", "shape": "circle", "filled": true, "size": 300, "fill": "#2e2e2e", "stroke": "#2e2e2e", "strokeWidth": 1, "opacity": 1},
 "encoding": {
  "x": {"field": "x", "type": "quantitative", "scale": {"domain": [0.5, 1.5], "nice": false, "zero": false}, "axis": {"orient": "bottom", "values": [0.6,0.7,0.8,0.9,1,1.1,1.2,1.3,1.4], "labelExpr": "round(datum.value*10)%2==0 ? format(datum.value,'~g') : ''", "title": null, "labelPadding": 24}},
  "y": {"field": "y", "type": "quantitative", "scale": {"domain": [0, 1], "nice": false}, "axis": {"orient": "left", "values": [0,0.1,0.2,0.3,0.4,0.5,0.6,0.7,0.8,0.9,1], "labelExpr": "round(datum.value*10)%2==0 ? format(datum.value,'~g') : ''", "title": ["Equivalent plastic strain to", "ductile crack initiation"], "labelPadding": 19, "titlePadding": 22, "titleLineHeight": 38}}
 }},
{"data": {"name": "pts"}, "transform": [{"filter": "datum.panel == 'd' && datum.series == '500 mm/s (Static estimation)'"}],
 "mark": {"type": "point", "shape": "M-1,-1L1,1M-1,1L1,-1", "filled": false, "size": 64, "stroke": "#444444", "strokeWidth": 1.2, "opacity": 1},
 "encoding": {"x": {"field": "x", "type": "quantitative", "scale": {"domain": [0.5, 1.5], "nice": false, "zero": false}, "axis": null}, "y": {"field": "y", "type": "quantitative", "scale": {"domain": [0, 1], "nice": false}, "axis": null}}},
{"data": {"name": "pts"}, "transform": [{"filter": "datum.panel == 'd' && datum.series == '500 mm/s (Dynamic correction)'"}],
 "mark": {"type": "point", "shape": "circle", "filled": true, "size": 320, "fill": "#f4f4f4", "stroke": "#666666", "strokeWidth": 1.3, "opacity": 1},
 "encoding": {"x": {"field": "x", "type": "quantitative", "scale": {"domain": [0.5, 1.5], "nice": false, "zero": false}, "axis": null}, "y": {"field": "y", "type": "quantitative", "scale": {"domain": [0, 1], "nice": false}, "axis": null}}},
{"data": {"name": "pts"}, "transform": [{"filter": "false"}],
 "mark": {"type": "point", "filled": true, "opacity": 1},
 "encoding": {
  "x": {"field": "x", "type": "quantitative", "scale": {"domain": [0.5, 1.5], "nice": false, "zero": false}, "axis": null},
  "y": {"field": "y", "type": "quantitative", "scale": {"domain": [0, 1], "nice": false}, "axis": null},
  "shape": {"field": "series", "type": "nominal", "scale": {"domain": ["0.0167 mm/s","500 mm/s (Static estimation)","500 mm/s (Dynamic correction)"], "range": ["M-3.5,0H-1.05M1.05,0H3.5M-1.05,0A1.05,1.05,0,1,1,1.05,0A1.05,1.05,0,1,1,-1.05,0Z", "M-2.1,0H-1.1M1.2,0H3.3M-0.5,-0.5L0.5,0.5M-0.5,0.5L0.5,-0.5", "M-3.5,0H-3.3M-3,0H-2.8M-2.5,0H-2.3M-2,0H-1.8M-1.5,0H-1.3M1.3,0H1.5M1.8,0H2M2.3,0H2.5M2.8,0H3M3.3,0H3.5M-1.05,0A1.05,1.05,0,1,1,1.05,0A1.05,1.05,0,1,1,-1.05,0Z"]},
   "legend": {"title": null, "orient": "none", "legendX": 14, "legendY": 298, "padding": 10, "strokeColor": "#666666", "symbolSize": 256, "symbolStrokeWidth": 1.3, "symbolOffset": 24, "labelOffset": 20, "labelFont": "Liberation Sans", "labelFontSize": 24, "labelColor": "#4a4a4a", "labelLimit": 600, "rowPadding": 1}},
  "fill": {"field": "series", "type": "nominal", "scale": {"domain": ["0.0167 mm/s","500 mm/s (Static estimation)","500 mm/s (Dynamic correction)"], "range": ["#2e2e2e","transparent","#f4f4f4"]}},
  "stroke": {"field": "series", "type": "nominal", "scale": {"domain": ["0.0167 mm/s","500 mm/s (Static estimation)","500 mm/s (Dynamic correction)"], "range": ["#2e2e2e","#444444","#666666"]}}
 }},
{"data": {"values": [{}]}, "mark": {"type": "text", "text": "Stress triaxiality,", "align": "left", "baseline": "middle", "font": "Liberation Sans", "fontSize": 29, "color": "#4a4a4a"},
 "encoding": {"x": {"datum": 0.594, "type": "quantitative", "scale": {"domain": [0.5, 1.5], "nice": false, "zero": false}, "axis": null}, "y": {"datum": -0.212, "type": "quantitative", "scale": {"domain": [0, 1], "nice": false}, "axis": null}}},
{"data": {"values": [{}]}, "mark": {"type": "text", "text": "σ", "align": "left", "baseline": "middle", "font": "Liberation Serif", "fontSize": 29, "color": "#4a4a4a"},
 "encoding": {"x": {"datum": 1.13, "type": "quantitative", "scale": {"domain": [0.5, 1.5], "nice": false, "zero": false}, "axis": null}, "y": {"datum": -0.212, "type": "quantitative", "scale": {"domain": [0, 1], "nice": false}, "axis": null}}},
{"data": {"values": [{}]}, "mark": {"type": "text", "text": "m", "align": "left", "baseline": "middle", "font": "Liberation Sans", "fontSize": 18, "color": "#4a4a4a"},
 "encoding": {"x": {"datum": 1.168, "type": "quantitative", "scale": {"domain": [0.5, 1.5], "nice": false, "zero": false}, "axis": null}, "y": {"datum": -0.254, "type": "quantitative", "scale": {"domain": [0, 1], "nice": false}, "axis": null}}},
{"data": {"values": [{}]}, "mark": {"type": "text", "text": "/σ", "align": "left", "baseline": "middle", "font": "Liberation Serif", "fontSize": 29, "color": "#4a4a4a"},
 "encoding": {"x": {"datum": 1.204, "type": "quantitative", "scale": {"domain": [0.5, 1.5], "nice": false, "zero": false}, "axis": null}, "y": {"datum": -0.212, "type": "quantitative", "scale": {"domain": [0, 1], "nice": false}, "axis": null}}},
{"data": {"values": [{}]}, "mark": {"type": "text", "text": "eq", "align": "left", "baseline": "middle", "font": "Liberation Sans", "fontSize": 18, "color": "#4a4a4a"},
 "encoding": {"x": {"datum": 1.263, "type": "quantitative", "scale": {"domain": [0.5, 1.5], "nice": false, "zero": false}, "axis": null}, "y": {"datum": -0.254, "type": "quantitative", "scale": {"domain": [0, 1], "nice": false}, "axis": null}}},
{"data": {"values": [{}]}, "mark": {"type": "text", "text": "(d) SM490B(Roll-H,1/2flange)", "align": "center", "baseline": "middle", "font": "Liberation Sans", "fontSize": 29, "color": "#4a4a4a"},
 "encoding": {"x": {"datum": 0.969, "type": "quantitative", "scale": {"domain": [0.5, 1.5], "nice": false, "zero": false}, "axis": null}, "y": {"datum": -0.333, "type": "quantitative", "scale": {"domain": [0, 1], "nice": false}, "axis": null}}}
]
},
{
"width": 440, "height": 410,
"resolve": {"scale": {"shape": "independent", "fill": "independent", "stroke": "independent", "strokeDash": "independent"}, "axis": {"x": "independent", "y": "independent"}},
"layer": [
{"data": {"name": "curves"}, "transform": [{"filter": "datum.panel == 'e'"}],
 "mark": {"type": "line", "interpolate": "monotone", "strokeWidth": 1.3},
 "encoding": {
  "x": {"field": "x", "type": "quantitative", "scale": {"domain": [0.5, 1.5], "nice": false, "zero": false}, "axis": {"orient": "top", "values": [0.6,0.7,0.8,0.9,1,1.1,1.2,1.3,1.4], "labels": false, "title": null}},
  "y": {"field": "y", "type": "quantitative", "scale": {"domain": [0, 1], "nice": false}, "axis": {"orient": "right", "values": [0,0.1,0.2,0.3,0.4,0.5,0.6,0.7,0.8,0.9,1], "labels": false, "title": null}},
  "strokeDash": {"field": "series", "type": "nominal", "scale": {"domain": ["0.0167 mm/s","500 mm/s (Static estimation)","500 mm/s (Dynamic correction)"], "range": [[1,0],[10,6],[2,4]]}, "legend": null},
  "stroke": {"field": "series", "type": "nominal", "scale": {"domain": ["0.0167 mm/s","500 mm/s (Static estimation)","500 mm/s (Dynamic correction)"], "range": ["#4d4d4d","#555555","#777777"]}, "legend": null}
 }},
{"data": {"name": "pts"}, "transform": [{"filter": "datum.panel == 'e' && datum.series == '0.0167 mm/s'"}],
 "mark": {"type": "point", "shape": "circle", "filled": true, "size": 300, "fill": "#2e2e2e", "stroke": "#2e2e2e", "strokeWidth": 1, "opacity": 1},
 "encoding": {
  "x": {"field": "x", "type": "quantitative", "scale": {"domain": [0.5, 1.5], "nice": false, "zero": false}, "axis": {"orient": "bottom", "values": [0.6,0.7,0.8,0.9,1,1.1,1.2,1.3,1.4], "labelExpr": "round(datum.value*10)%2==0 ? format(datum.value,'~g') : ''", "title": null, "labelPadding": 24}},
  "y": {"field": "y", "type": "quantitative", "scale": {"domain": [0, 1], "nice": false}, "axis": {"orient": "left", "values": [0,0.1,0.2,0.3,0.4,0.5,0.6,0.7,0.8,0.9,1], "labelExpr": "round(datum.value*10)%2==0 ? format(datum.value,'~g') : ''", "title": ["Equivalent plastic strain to", "ductile crack initiation"], "labelPadding": 19, "titlePadding": 22, "titleLineHeight": 38}}
 }},
{"data": {"name": "pts"}, "transform": [{"filter": "datum.panel == 'e' && datum.series == '500 mm/s (Static estimation)'"}],
 "mark": {"type": "point", "shape": "M-1,-1L1,1M-1,1L1,-1", "filled": false, "size": 64, "stroke": "#444444", "strokeWidth": 1.2, "opacity": 1},
 "encoding": {"x": {"field": "x", "type": "quantitative", "scale": {"domain": [0.5, 1.5], "nice": false, "zero": false}, "axis": null}, "y": {"field": "y", "type": "quantitative", "scale": {"domain": [0, 1], "nice": false}, "axis": null}}},
{"data": {"name": "pts"}, "transform": [{"filter": "datum.panel == 'e' && datum.series == '500 mm/s (Dynamic correction)'"}],
 "mark": {"type": "point", "shape": "circle", "filled": true, "size": 320, "fill": "#f4f4f4", "stroke": "#666666", "strokeWidth": 1.3, "opacity": 1},
 "encoding": {"x": {"field": "x", "type": "quantitative", "scale": {"domain": [0.5, 1.5], "nice": false, "zero": false}, "axis": null}, "y": {"field": "y", "type": "quantitative", "scale": {"domain": [0, 1], "nice": false}, "axis": null}}},
{"data": {"name": "pts"}, "transform": [{"filter": "false"}],
 "mark": {"type": "point", "filled": true, "opacity": 1},
 "encoding": {
  "x": {"field": "x", "type": "quantitative", "scale": {"domain": [0.5, 1.5], "nice": false, "zero": false}, "axis": null},
  "y": {"field": "y", "type": "quantitative", "scale": {"domain": [0, 1], "nice": false}, "axis": null},
  "shape": {"field": "series", "type": "nominal", "scale": {"domain": ["0.0167 mm/s","500 mm/s (Static estimation)","500 mm/s (Dynamic correction)"], "range": ["M-3.5,0H-1.05M1.05,0H3.5M-1.05,0A1.05,1.05,0,1,1,1.05,0A1.05,1.05,0,1,1,-1.05,0Z", "M-2.1,0H-1.1M1.2,0H3.3M-0.5,-0.5L0.5,0.5M-0.5,0.5L0.5,-0.5", "M-3.5,0H-3.3M-3,0H-2.8M-2.5,0H-2.3M-2,0H-1.8M-1.5,0H-1.3M1.3,0H1.5M1.8,0H2M2.3,0H2.5M2.8,0H3M3.3,0H3.5M-1.05,0A1.05,1.05,0,1,1,1.05,0A1.05,1.05,0,1,1,-1.05,0Z"]},
   "legend": {"title": null, "orient": "none", "legendX": 17, "legendY": 287, "padding": 10, "strokeColor": "#666666", "symbolSize": 256, "symbolStrokeWidth": 1.3, "symbolOffset": 24, "labelOffset": 20, "labelFont": "Liberation Sans", "labelFontSize": 24, "labelColor": "#4a4a4a", "labelLimit": 600, "rowPadding": 5}},
  "fill": {"field": "series", "type": "nominal", "scale": {"domain": ["0.0167 mm/s","500 mm/s (Static estimation)","500 mm/s (Dynamic correction)"], "range": ["#2e2e2e","transparent","#f4f4f4"]}},
  "stroke": {"field": "series", "type": "nominal", "scale": {"domain": ["0.0167 mm/s","500 mm/s (Static estimation)","500 mm/s (Dynamic correction)"], "range": ["#2e2e2e","#444444","#666666"]}}
 }},
{"data": {"values": [{}]}, "mark": {"type": "text", "text": "Stress triaxiality,", "align": "left", "baseline": "middle", "font": "Liberation Sans", "fontSize": 29, "color": "#4a4a4a"},
 "encoding": {"x": {"datum": 0.594, "type": "quantitative", "scale": {"domain": [0.5, 1.5], "nice": false, "zero": false}, "axis": null}, "y": {"datum": -0.21, "type": "quantitative", "scale": {"domain": [0, 1], "nice": false}, "axis": null}}},
{"data": {"values": [{}]}, "mark": {"type": "text", "text": "σ", "align": "left", "baseline": "middle", "font": "Liberation Serif", "fontSize": 29, "color": "#4a4a4a"},
 "encoding": {"x": {"datum": 1.148, "type": "quantitative", "scale": {"domain": [0.5, 1.5], "nice": false, "zero": false}, "axis": null}, "y": {"datum": -0.21, "type": "quantitative", "scale": {"domain": [0, 1], "nice": false}, "axis": null}}},
{"data": {"values": [{}]}, "mark": {"type": "text", "text": "m", "align": "left", "baseline": "middle", "font": "Liberation Sans", "fontSize": 18, "color": "#4a4a4a"},
 "encoding": {"x": {"datum": 1.186, "type": "quantitative", "scale": {"domain": [0.5, 1.5], "nice": false, "zero": false}, "axis": null}, "y": {"datum": -0.251, "type": "quantitative", "scale": {"domain": [0, 1], "nice": false}, "axis": null}}},
{"data": {"values": [{}]}, "mark": {"type": "text", "text": "/σ", "align": "left", "baseline": "middle", "font": "Liberation Serif", "fontSize": 29, "color": "#4a4a4a"},
 "encoding": {"x": {"datum": 1.222, "type": "quantitative", "scale": {"domain": [0.5, 1.5], "nice": false, "zero": false}, "axis": null}, "y": {"datum": -0.21, "type": "quantitative", "scale": {"domain": [0, 1], "nice": false}, "axis": null}}},
{"data": {"values": [{}]}, "mark": {"type": "text", "text": "eq", "align": "left", "baseline": "middle", "font": "Liberation Sans", "fontSize": 18, "color": "#4a4a4a"},
 "encoding": {"x": {"datum": 1.281, "type": "quantitative", "scale": {"domain": [0.5, 1.5], "nice": false, "zero": false}, "axis": null}, "y": {"datum": -0.251, "type": "quantitative", "scale": {"domain": [0, 1], "nice": false}, "axis": null}}},
{"data": {"values": [{}]}, "mark": {"type": "text", "text": "(e) SM490B(Roll-H,1/4flange)", "align": "center", "baseline": "middle", "font": "Liberation Sans", "fontSize": 29, "color": "#4a4a4a"},
 "encoding": {"x": {"datum": 0.97, "type": "quantitative", "scale": {"domain": [0.5, 1.5], "nice": false, "zero": false}, "axis": null}, "y": {"datum": -0.373, "type": "quantitative", "scale": {"domain": [0, 1], "nice": false}, "axis": null}}}
]
},
{
"width": 440, "height": 410,
"resolve": {"scale": {"shape": "independent", "fill": "independent", "stroke": "independent", "strokeDash": "independent"}, "axis": {"x": "independent", "y": "independent"}},
"layer": [
{"data": {"name": "curves"}, "transform": [{"filter": "datum.panel == 'f'"}],
 "mark": {"type": "line", "interpolate": "monotone", "strokeWidth": 1.3},
 "encoding": {
  "x": {"field": "x", "type": "quantitative", "scale": {"domain": [0.5, 1.5], "nice": false, "zero": false}, "axis": {"orient": "top", "values": [0.6,0.7,0.8,0.9,1,1.1,1.2,1.3,1.4], "labels": false, "title": null}},
  "y": {"field": "y", "type": "quantitative", "scale": {"domain": [0, 1], "nice": false}, "axis": {"orient": "right", "values": [0,0.1,0.2,0.3,0.4,0.5,0.6,0.7,0.8,0.9,1], "labels": false, "title": null}},
  "strokeDash": {"field": "series", "type": "nominal", "scale": {"domain": ["0.0167 mm/sec","10 mm/s"], "range": [[1,0],[2,4]]}, "legend": null},
  "stroke": {"field": "series", "type": "nominal", "scale": {"domain": ["0.0167 mm/sec","10 mm/s"], "range": ["#4d4d4d","#777777"]}, "legend": null}
 }},
{"data": {"name": "pts"}, "transform": [{"filter": "datum.panel == 'f' && datum.series == '0.0167 mm/sec'"}],
 "mark": {"type": "point", "shape": "circle", "filled": true, "size": 280, "fill": "#2e2e2e", "stroke": "#2e2e2e", "strokeWidth": 1, "opacity": 1},
 "encoding": {
  "x": {"field": "x", "type": "quantitative", "scale": {"domain": [0.5, 1.5], "nice": false, "zero": false}, "axis": {"orient": "bottom", "values": [0.6,0.7,0.8,0.9,1,1.1,1.2,1.3,1.4], "labelExpr": "round(datum.value*10)%2==0 ? format(datum.value,'~g') : ''", "title": null, "labelPadding": 24}},
  "y": {"field": "y", "type": "quantitative", "scale": {"domain": [0, 1], "nice": false}, "axis": {"orient": "left", "values": [0,0.1,0.2,0.3,0.4,0.5,0.6,0.7,0.8,0.9,1], "labelExpr": "round(datum.value*10)%2==0 ? format(datum.value,'~g') : ''", "title": ["Equivalent plastic strain to", "ductile crack initiation"], "labelPadding": 19, "titlePadding": 22, "titleLineHeight": 38}}
 }},
{"data": {"name": "pts"}, "transform": [{"filter": "datum.panel == 'f' && datum.series == '10 mm/s'"}],
 "mark": {"type": "point", "shape": "triangle-up", "filled": true, "size": 170, "fill": "#efefef", "stroke": "#666666", "strokeWidth": 1.2, "opacity": 1},
 "encoding": {"x": {"field": "x", "type": "quantitative", "scale": {"domain": [0.5, 1.5], "nice": false, "zero": false}, "axis": null}, "y": {"field": "y", "type": "quantitative", "scale": {"domain": [0, 1], "nice": false}, "axis": null}}},
{"data": {"name": "pts"}, "transform": [{"filter": "false"}],
 "mark": {"type": "point", "filled": true, "opacity": 1},
 "encoding": {
  "x": {"field": "x", "type": "quantitative", "scale": {"domain": [0.5, 1.5], "nice": false, "zero": false}, "axis": null},
  "y": {"field": "y", "type": "quantitative", "scale": {"domain": [0, 1], "nice": false}, "axis": null},
  "shape": {"field": "series", "type": "nominal", "scale": {"domain": ["0.0167 mm/sec","10 mm/s"], "range": ["M-3.4,0H-0.95M0.95,0H3.4M-0.95,0A0.95,0.95,0,1,1,0.95,0A0.95,0.95,0,1,1,-0.95,0Z", "M-3.4,0H-3.2M-2.9,0H-2.7M-2.4,0H-2.2M-1.9,0H-1.7M-1.4,0H-1.2M1.2,0H1.4M1.7,0H1.9M2.2,0H2.4M2.7,0H2.9M3.2,0H3.4M-0.9,0.75L0,-0.8L0.9,0.75Z"]},
   "legend": {"title": null, "orient": "none", "legendX": 143, "legendY": 15, "padding": 11, "strokeColor": "#666666", "symbolSize": 256, "symbolStrokeWidth": 1.3, "symbolOffset": 22, "labelOffset": 15, "labelFont": "Liberation Sans", "labelFontSize": 29, "labelColor": "#4a4a4a", "labelLimit": 600, "rowPadding": 6}},
  "fill": {"field": "series", "type": "nominal", "scale": {"domain": ["0.0167 mm/sec","10 mm/s"], "range": ["#2e2e2e","#efefef"]}},
  "stroke": {"field": "series", "type": "nominal", "scale": {"domain": ["0.0167 mm/sec","10 mm/s"], "range": ["#2e2e2e","#666666"]}}
 }},
{"data": {"values": [{}]}, "mark": {"type": "text", "text": "Stress triaxiality,", "align": "left", "baseline": "middle", "font": "Liberation Sans", "fontSize": 29, "color": "#4a4a4a"},
 "encoding": {"x": {"datum": 0.591, "type": "quantitative", "scale": {"domain": [0.5, 1.5], "nice": false, "zero": false}, "axis": null}, "y": {"datum": -0.212, "type": "quantitative", "scale": {"domain": [0, 1], "nice": false}, "axis": null}}},
{"data": {"values": [{}]}, "mark": {"type": "text", "text": "σ", "align": "left", "baseline": "middle", "font": "Liberation Serif", "fontSize": 29, "color": "#4a4a4a"},
 "encoding": {"x": {"datum": 1.132, "type": "quantitative", "scale": {"domain": [0.5, 1.5], "nice": false, "zero": false}, "axis": null}, "y": {"datum": -0.212, "type": "quantitative", "scale": {"domain": [0, 1], "nice": false}, "axis": null}}},
{"data": {"values": [{}]}, "mark": {"type": "text", "text": "m", "align": "left", "baseline": "middle", "font": "Liberation Sans", "fontSize": 18, "color": "#4a4a4a"},
 "encoding": {"x": {"datum": 1.17, "type": "quantitative", "scale": {"domain": [0.5, 1.5], "nice": false, "zero": false}, "axis": null}, "y": {"datum": -0.254, "type": "quantitative", "scale": {"domain": [0, 1], "nice": false}, "axis": null}}},
{"data": {"values": [{}]}, "mark": {"type": "text", "text": "/σ", "align": "left", "baseline": "middle", "font": "Liberation Serif", "fontSize": 29, "color": "#4a4a4a"},
 "encoding": {"x": {"datum": 1.206, "type": "quantitative", "scale": {"domain": [0.5, 1.5], "nice": false, "zero": false}, "axis": null}, "y": {"datum": -0.212, "type": "quantitative", "scale": {"domain": [0, 1], "nice": false}, "axis": null}}},
{"data": {"values": [{}]}, "mark": {"type": "text", "text": "eq", "align": "left", "baseline": "middle", "font": "Liberation Sans", "fontSize": 18, "color": "#4a4a4a"},
 "encoding": {"x": {"datum": 1.265, "type": "quantitative", "scale": {"domain": [0.5, 1.5], "nice": false, "zero": false}, "axis": null}, "y": {"datum": -0.254, "type": "quantitative", "scale": {"domain": [0, 1], "nice": false}, "axis": null}}},
{"data": {"values": [{}]}, "mark": {"type": "text", "text": "(f) SN490B(Roll-H)", "align": "center", "baseline": "middle", "font": "Liberation Sans", "fontSize": 29, "color": "#4a4a4a"},
 "encoding": {"x": {"datum": 0.98, "type": "quantitative", "scale": {"domain": [0.5, 1.5], "nice": false, "zero": false}, "axis": null}, "y": {"datum": -0.314, "type": "quantitative", "scale": {"domain": [0, 1], "nice": false}, "axis": null}}}
]
}
],
"config": {
 "font": "Liberation Sans",
 "view": {"stroke": "#666666", "strokeWidth": 1.6},
 "axis": {"domain": false, "grid": false, "ticks": true, "tickSize": -7, "tickColor": "#666666", "tickWidth": 1.2, "labelFont": "Liberation Sans", "labelFontSize": 29, "labelColor": "#4a4a4a", "titleFont": "Liberation Sans", "titleFontSize": 29, "titleColor": "#4a4a4a", "titleFontWeight": "normal", "labelOverlap": false, "labelFlush": false},
 "legend": {"strokeWidth": 1.3}
}
}
